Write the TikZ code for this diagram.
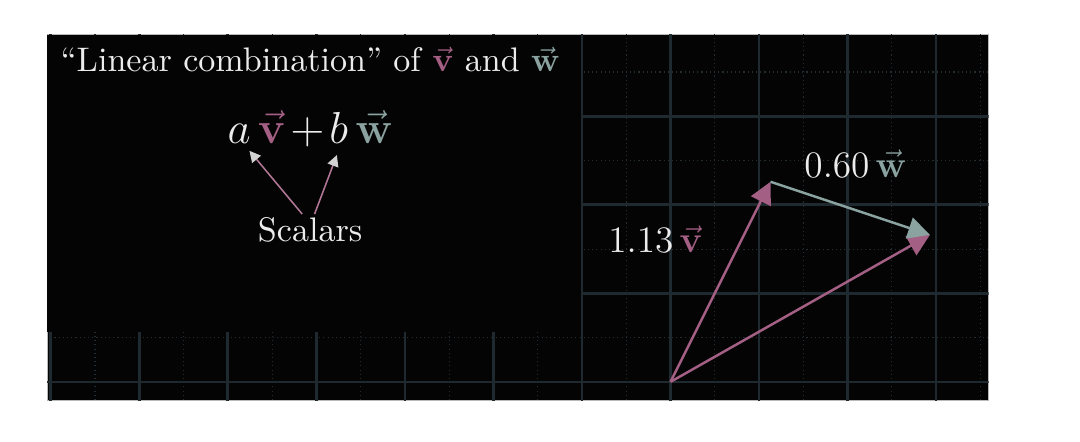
\documentclass[tikz,border=0pt]{standalone}
\usetikzlibrary{arrows.meta}
\definecolor{vcol}{RGB}{163,95,132}
\definecolor{wcol}{RGB}{138,163,160}
\definecolor{gridmaj}{RGB}{30,42,48}
\definecolor{gridmin}{RGB}{34,46,52}
\definecolor{txtcol}{RGB}{236,236,236}
\definecolor{panel}{RGB}{4,4,4}
\begin{document}
\begin{tikzpicture}[>={Triangle[length=7pt,width=7pt]},
  major/.style={gridmaj,line width=0.85pt},
  minor/.style={gridmin,line width=0.35pt,densely dotted},
  vec/.style={->,line width=0.8pt},
  txt/.style={text=txtcol,inner sep=1pt},
  pointer/.style={-{Triangle[length=3.6pt,width=3.6pt,color=gray!35!white]},vcol!85!white,line width=0.5pt}]
\useasboundingbox (-7.573,-0.670) rectangle (4.625,4.313);
\fill[white] (-7.573,-0.670) rectangle (4.625,4.313);
\filldraw[fill=panel,draw=gray!55,line width=0.3pt] (-7.04,-0.207) rectangle (3.594,3.921);
% grid
\begin{scope}
  \clip (-7.04,-0.207) rectangle (3.594,3.921);
  \foreach \x in {-7.5,-6.5,...,3.5}
    \draw[minor] (\x,-0.3) -- (\x,4);
  \foreach \y in {0.5,1.5,2.5,3.5}
    \draw[minor] (-7.1,\y) -- (3.7,\y);
  \foreach \x in {-7,...,3}
    \draw[major] (\x,-0.3) -- (\x,4);
  \foreach \y in {0,...,3}
    \draw[major] (-7.1,\y) -- (3.7,\y);
\end{scope}
% linke Abdeckung
\fill[panel] (-7.04,0.565) rectangle (-1.016,3.921);
% Text links
\node[txt,anchor=base west,font=\fontsize{10.95}{13}\selectfont] (title) at (-6.93,3.50)
  {``Linear combination'' of \textcolor{vcol}{$\vec{\mathbf{v}}$} and \textcolor{wcol}{$\vec{\mathbf{w}}$}};
\node[txt,anchor=base,font=\fontsize{14.4}{17}\selectfont] (comb) at (-4.07,2.694)
  {$a\,\textcolor{vcol}{\vec{\mathbf{v}}}\mkern2mu{+}\mkern2mu b\,\textcolor{wcol}{\vec{\mathbf{w}}}$};
\node[txt,anchor=base,font=\fontsize{10.95}{13}\selectfont] (sc) at (-4.07,1.582) {Scalars};
\coordinate (ta) at (-4.756,2.61);
\coordinate (tb) at (-3.768,2.562);
\draw[pointer] ([xshift=-0.09cm]sc.north) -- (ta);
\draw[pointer] ([xshift=0.05cm]sc.north) -- (tb);
% Vektoren
\coordinate (O) at (0,0);
\coordinate (V) at (1.13,2.26);
\coordinate (S) at (2.93,1.66);
\draw[vec,vcol] (O) -- (S);
\draw[vec,vcol] (O) -- (V);
\draw[vec,wcol] (V) -- (S);
\node[txt,anchor=base,font=\fontsize{12}{14}\selectfont] (lv) at (-0.17,1.46)
  {$1.13\,\textcolor{vcol}{\vec{\mathbf{v}}}$};
\node[txt,anchor=base,font=\fontsize{12}{14}\selectfont] (lw) at (2.09,2.31)
  {$0.60\,\textcolor{wcol}{\vec{\mathbf{w}}}$};
\end{tikzpicture}
\end{document}
